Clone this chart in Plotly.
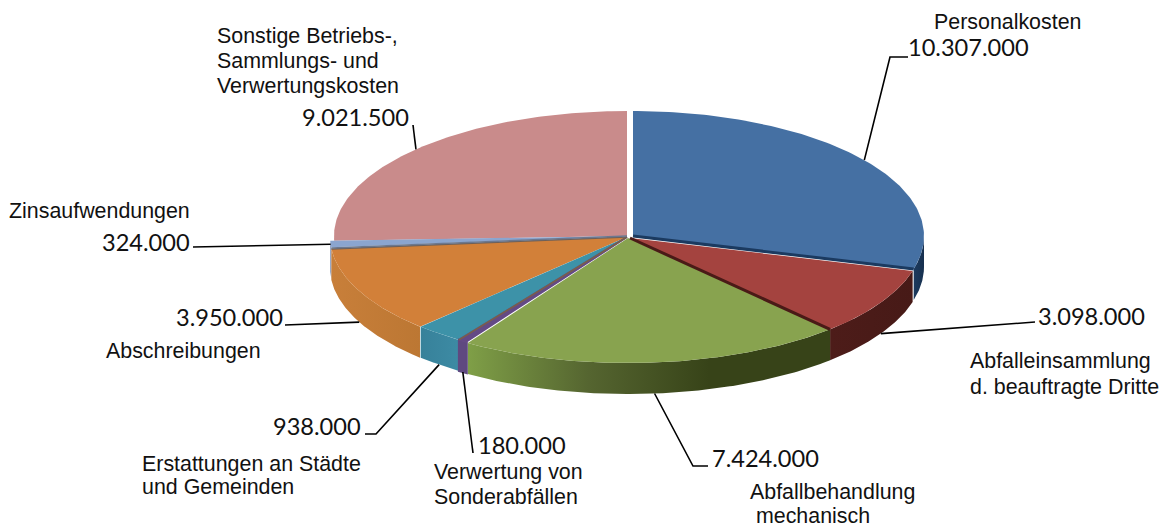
import numpy as np
import plotly.graph_objects as go

# ---- data ----
names = [["Personalkosten"], ["Abfalleinsammlung", "d. beauftragte Dritte"], ["Abfallbehandlung", "\u00a0mechanisch"],
         ["Verwertung von", "Sonderabfällen"], ["Erstattungen an Städte", "und Gemeinden"], ["Abschreibungen"],
         ["Zinsaufwendungen"], ["Sonstige Betriebs-,", "Sammlungs- und", "Verwertungskosten"]]
values = [10307000, 3098000, 7424000, 180000, 938000, 3950000, 324000, 9021500]
value_labels = ["10.307.000", "3.098.000", "7.424.000", "180.000", "938.000", "3.950.000", "324.000", "9.021.500"]
top_colors = ["#4570a3", "#a4433f", "#88a34f", "#644a85", "#3d92a8", "#d28039", "#8ba5cf", "#c98b8b"]
side_colors = [["#1c3a5e", "#17304f"], ["#4d1c19", "#471a17"], ["#7f9f47", "#556530", "#374318", "#374318"],
               ["#5f4980", "#5f4980"], ["#37819a", "#3d8ba4"], ["#c87f3a", "#bc7733"], ["#7f93b8", "#7f93b8"], None]
edge_colors = ["#1b3a60", "#4a1a17", None, None, "#7a6048", "#6f6058", "#6b7890", None]
edge_widths = [3, 3, 0, 0, 1.5, 1.5, 1.5, 0]

# ---- layout of the drawing (pixels of the page; the page body has an 8 px margin) ----
W, H = 1167, 528
PAGE_MARGIN = 8
centers = [(633, 236), (630, 238), (628, 238), (627, 237), (627, 237), (627, 237), (627, 236), (627, 236)]
radii = [291, 293, 296, 296, 296, 297, 297, 293]
RY, DEPTH = 125, 31
cum = np.cumsum([0] + values) / sum(values) * 2 * np.pi
BLACK = "#000000"

def rim(i, a0, a1, n=120):
    t = np.linspace(a0, a1, n)
    cx, cy = centers[i]
    return cx + radii[i] * np.sin(t), cy - RY * np.cos(t)

def point(i, a, drop=0):
    cx, cy = centers[i]
    return cx + radii[i] * np.sin(a), cy - RY * np.cos(a) + drop

fig = go.Figure()

def add_top(i):
    x, y = rim(i, cum[i], cum[i + 1])
    cx, cy = centers[i]
    outline = dict(color=top_colors[i], width=2) if i == 3 else dict(width=0)
    fig.add_trace(go.Scatter(x=[cx, *x, cx], y=[cy, *y, cy], mode="lines", fill="toself",
                             fillcolor=top_colors[i], line=outline, hoverinfo="skip", showlegend=False))

def add_edge(i):
    if edge_colors[i]:
        cx, cy = centers[i]
        px, py = point(i, cum[i + 1] if i in (0, 1, 5) else cum[i])
        fig.add_trace(go.Scatter(x=[cx, px], y=[cy, py], mode="lines",
                                 line=dict(color=edge_colors[i], width=edge_widths[i]),
                                 hoverinfo="skip", showlegend=False))

def add_side(i):
    a0 = max(cum[i], np.pi / 2)
    a1 = min(cum[i + 1], 3 * np.pi / 2)
    x, y = rim(i, a0, a1)
    cols = side_colors[i]
    scale = [[k / (len(cols) - 1), c] for k, c in enumerate(cols)]
    outline = dict(color=cols[0], width=2) if i == 3 else dict(width=0)
    fig.add_trace(go.Scatter(x=[*x, *x[::-1], x[0]], y=[*y, *(y[::-1] + DEPTH), y[0]], mode="lines", fill="toself",
                             fillgradient=dict(type="horizontal", colorscale=scale),
                             line=outline, hoverinfo="skip", showlegend=False))

add_top(7)
add_side(0); add_top(0)
add_side(1); add_top(1)
add_side(6); add_side(5); add_top(6); add_top(5)
add_side(4); add_top(4)
add_side(2); add_top(2)
add_side(3); add_top(3)
for i in range(8):
    add_edge(i)

# ---- leader lines: inner end at each slice's mid-angle ----
mid = (cum[:-1] + cum[1:]) / 2
leader_drop = [0, DEPTH, DEPTH, DEPTH, DEPTH, DEPTH, 0, 0]
leader_tail = [[(890, 57), (908, 57)], [(1028, 322), (1035, 322)], [(693, 466), (708, 466)], [(473, 453)],
               [(376, 434), (365, 434)], [(285, 325)], [(193, 247)], [(413, 125)]]
for i in range(8):
    px, py = point(i, mid[i], leader_drop[i])
    xs = [px] + [p[0] for p in leader_tail[i]]
    ys = [py] + [p[1] for p in leader_tail[i]]
    fig.add_trace(go.Scatter(x=xs, y=ys, mode="lines", line=dict(color=BLACK, width=1.6),
                             hoverinfo="skip", showlegend=False))

# ---- text ----
name_x = [934, 970, 750, 434, 142, 106, 9, 217]
name_y = [[22], [361, 387], [492, 516], [472, 497], [464, 487], [351], [211], [36, 61, 86]]
value_pos = [(908, 47), (1038, 316), (712, 458), (478, 445), (273, 426), (176, 317), (102, 242), (302, 117)]
annos = []
for i in range(8):
    for line, ly in zip(names[i], name_y[i]):
        annos.append(dict(x=name_x[i], y=ly, text=line, xref="x", yref="y", showarrow=False,
                          xanchor="left", yanchor="middle", align="left", xshift=-2,
                          font=dict(family="Liberation Sans", size=21.4, color="#111111")))
    annos.append(dict(x=value_pos[i][0], y=value_pos[i][1], text=value_labels[i], xref="x", yref="y", showarrow=False,
                      xanchor="left", yanchor="middle", align="left", xshift=-2,
                      font=dict(family="Lato", size=23.6, color="#111111")))

fig.update_layout(width=W, height=H, margin=dict(l=0, r=0, t=0, b=0), autosize=False,
                  paper_bgcolor="white", plot_bgcolor="white", annotations=annos, showlegend=False,
                  xaxis=dict(range=[PAGE_MARGIN, W + PAGE_MARGIN], visible=False, fixedrange=True),
                  yaxis=dict(range=[H + PAGE_MARGIN, PAGE_MARGIN], visible=False, fixedrange=True))
fig.write_html("out.html", config=dict(displayModeBar=False))
